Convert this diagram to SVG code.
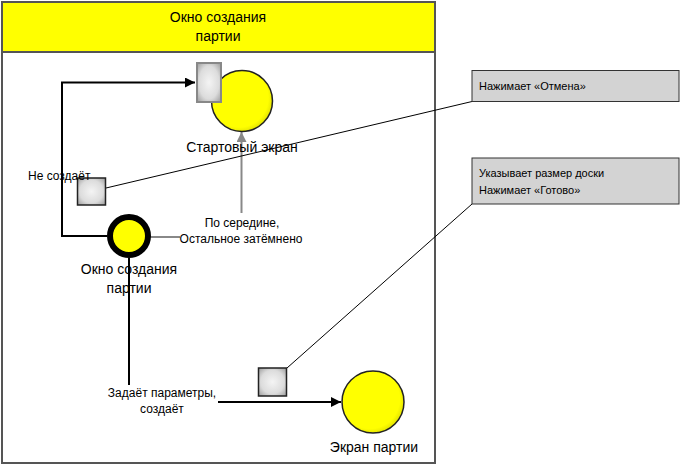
<svg xmlns="http://www.w3.org/2000/svg" width="681" height="466" viewBox="0 0 681 466">
<style>
text{font-family:"Liberation Sans",Arial,sans-serif;fill:#000}
.lbl{font-size:14px}
.sm{font-size:12px}
.note{font-size:11px}
.blk{fill:none;stroke:#000;stroke-width:2}
.gry{fill:none;stroke:#888;stroke-width:2}
.thin{fill:none;stroke:#000;stroke-width:1}
</style>
<defs>
<radialGradient id="yg" cx="0.45" cy="0.45" r="0.6">
<stop offset="0" stop-color="#ffff00"/>
<stop offset="0.8" stop-color="#ffff00"/>
<stop offset="1" stop-color="#d8d800"/>
</radialGradient>
<radialGradient id="gg" cx="0.5" cy="0.5" r="0.7">
<stop offset="0" stop-color="#f4f4f4"/>
<stop offset="0.6" stop-color="#dcdcdc"/>
<stop offset="1" stop-color="#9a9a9a"/>
</radialGradient>
<marker id="ab" viewBox="0 0 10 10" refX="10" refY="5" markerWidth="5" markerHeight="5" orient="auto" markerUnits="strokeWidth"><path d="M0,0L10,5L0,10z" fill="#000"/></marker>
<marker id="ag" viewBox="0 0 10 10" refX="10" refY="5" markerWidth="5" markerHeight="5" orient="auto" markerUnits="strokeWidth"><path d="M0,0L10,5L0,10z" fill="#888"/></marker>
</defs>
<g id="frame">
<rect x="2" y="2" width="433" height="461" fill="#fff" stroke="#555" stroke-width="2"/>
<rect x="2" y="2" width="433" height="50" fill="#ffff00" stroke="#555" stroke-width="2"/>
<text x="218" y="22" class="lbl" text-anchor="middle">Окно создания</text>
<text x="218" y="41" class="lbl" text-anchor="middle">партии</text>
</g>
<g id="connectors">
<polyline class="blk" points="107,236 62,236 62,82.5 195,82.5" marker-end="url(#ab)"/>
<polyline class="gry" points="150,237 180,237"/>
<polyline class="gry" points="241.5,213 241.5,132" marker-end="url(#ag)"/>
<line class="blk" x1="129" y1="258" x2="129" y2="385"/>
<line class="blk" x1="218" y1="402" x2="341" y2="402" marker-end="url(#ab)"/>
<line class="thin" x1="106" y1="188" x2="472" y2="101.5"/>
<line class="thin" x1="287" y1="368" x2="472" y2="204"/>
</g>
<g id="start-screen">
<circle cx="242" cy="101" r="30.5" fill="url(#yg)" stroke="#222" stroke-width="1.5"/>
<rect x="197" y="63" width="24" height="39" fill="url(#gg)" stroke="#888" stroke-width="2"/>
<text x="242" y="152" class="lbl" text-anchor="middle">Стартовый экран</text>
</g>
<g id="create-window">
<circle cx="129" cy="236" r="19" fill="url(#yg)" stroke="#000" stroke-width="6"/>
<text x="129" y="274" class="lbl" text-anchor="middle">Окно создания</text>
<text x="129" y="293" class="lbl" text-anchor="middle">партии</text>
</g>
<g id="game-screen">
<circle cx="373" cy="402" r="31" fill="url(#yg)" stroke="#222" stroke-width="1.5"/>
<text x="374" y="452" class="lbl" text-anchor="middle">Экран партии</text>
</g>
<g id="cancel-event">
<rect x="77.5" y="178" width="28" height="27" fill="url(#gg)" stroke="#222" stroke-width="1.5"/>
<text x="28" y="180" class="sm">Не создаёт</text>
</g>
<g id="done-event">
<rect x="258.5" y="368" width="28" height="28" fill="url(#gg)" stroke="#222" stroke-width="1.5"/>
</g>
<g id="labels">
<text x="242" y="227" class="sm" text-anchor="middle">По середине,</text>
<text x="241" y="243" class="sm" text-anchor="middle">Остальное затёмнено</text>
<text x="162" y="397" class="sm" text-anchor="middle">Задаёт параметры,</text>
<text x="162" y="413" class="sm" text-anchor="middle">создаёт</text>
</g>
<g id="note-cancel">
<rect x="472" y="70.5" width="207" height="31" fill="#d3d3d3" stroke="#333" stroke-width="1"/>
<text x="479" y="90" class="note">Нажимает «Отмена»</text>
</g>
<g id="note-done">
<rect x="472" y="158" width="207" height="46" fill="#d3d3d3" stroke="#333" stroke-width="1"/>
<text x="479" y="177" class="note">Указывает размер доски</text>
<text x="479" y="194" class="note">Нажимает «Готово»</text>
</g>
</svg>
